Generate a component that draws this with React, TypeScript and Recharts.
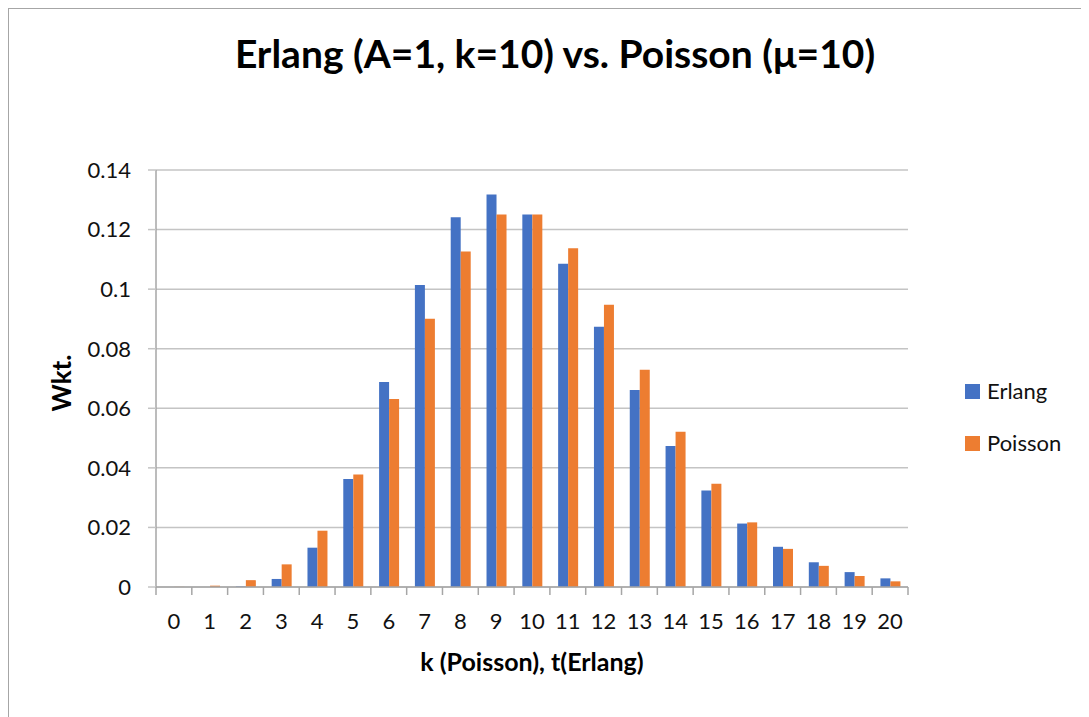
import React from 'react';
import { BarChart, Bar, XAxis, YAxis, CartesianGrid, Legend } from 'recharts';

const categories = ['0', '1', '2', '3', '4', '5', '6', '7', '8', '9', '10', '11', '12', '13', '14', '15', '16', '17', '18', '19', '20'];
const erlangValues = [0, 0.000001, 0.00019, 0.0027, 0.0132, 0.0363, 0.0688, 0.1014, 0.1241, 0.1318, 0.1251, 0.1085, 0.0874, 0.0661, 0.0473, 0.0324, 0.0213, 0.0135, 0.0083, 0.005, 0.0029];
const poissonValues = [0.00005, 0.00045, 0.0023, 0.0076, 0.0189, 0.0378, 0.0631, 0.0901, 0.1126, 0.1251, 0.1251, 0.1137, 0.0948, 0.0729, 0.0521, 0.0347, 0.0217, 0.0128, 0.0071, 0.0037, 0.0019];
const yTicks = [0, 0.02, 0.04, 0.06, 0.08, 0.1, 0.12, 0.14];

const titleText = 'Erlang (A=1, k=10) vs. Poisson (\u03bc=10)';
const xTitle = 'k (Poisson), t(Erlang)';
const yTitle = 'Wkt.';

const data = categories.map((c, i) => ({ k: c, Erlang: erlangValues[i], Poisson: poissonValues[i] }));

const FONT = 'Lato, "Open Sans", sans-serif';
const W = 1090;
const H = 711;
const PLOT_L = 147;
const PLOT_R = 899;
const PLOT_T = 161;
const PLOT_B = 578;
const X_AXIS_H = 60;
const BAND = (PLOT_R - PLOT_L) / categories.length;
const AXIS_COLOR = '#a6a6a6';
const GRID_COLOR = '#c4c4c4';
const BLUE = '#4472C4';
const ORANGE = '#ED7D31';

const XTick = (props: any) => {
  const { x, y, payload, index } = props;
  const left = x - BAND / 2;
  const right = x + BAND / 2;
  return (
    <g>
      <line x1={left} x2={left} y1={y} y2={y + 8} stroke={AXIS_COLOR} strokeWidth={1.5} />
      {index === categories.length - 1 && (
        <line x1={right} x2={right} y1={y} y2={y + 8} stroke={AXIS_COLOR} strokeWidth={1.5} />
      )}
      <text x={x} y={y + 42} textAnchor="middle" fontFamily={FONT} fontSize={22} fill="#111">
        {payload.value}
      </text>
    </g>
  );
};

const renderLegend = (props: any) => {
  const { payload } = props;
  return (
    <div style={{ fontFamily: FONT }}>
      {(payload || []).map((entry: any) => (
        <div key={entry.value} style={{ display: 'flex', alignItems: 'center', height: 52 }}>
          <span style={{ display: 'inline-block', width: 15, height: 15, background: entry.color, marginRight: 7 }} />
          <span style={{ fontSize: 22, color: '#111', lineHeight: '22px' }}>{entry.value}</span>
        </div>
      ))}
    </div>
  );
};

export default function App() {
  return (
    <div style={{ position: 'relative', width: 1100, height: 720, border: '1px solid #a6a6a6', background: '#fff' }}>
      <style>{'body{overflow:hidden}'}</style>
      <BarChart
        width={W}
        height={H}
        data={data}
        margin={{ top: PLOT_T, right: W - PLOT_R, bottom: H - PLOT_B - X_AXIS_H, left: 0 }}
        barCategoryGap="23%"
        barGap={0}
      >
        <CartesianGrid vertical={false} stroke={GRID_COLOR} strokeWidth={1.5} />
        <XAxis
          dataKey="k"
          interval={0}
          height={X_AXIS_H}
          tickLine={false}
          tickSize={0}
          tickMargin={0}
          axisLine={{ stroke: AXIS_COLOR, strokeWidth: 1.5 }}
          tick={<XTick />}
        />
        <YAxis
          width={PLOT_L}
          domain={[0, 0.14]}
          ticks={yTicks}
          tickSize={8}
          tickMargin={17}
          tickLine={{ stroke: GRID_COLOR, strokeWidth: 1.5 }}
          axisLine={{ stroke: AXIS_COLOR, strokeWidth: 1.5 }}
          tick={{ fontFamily: FONT, fontSize: 22, fill: '#111' }}
        />
        <Legend
          layout="vertical"
          align="center"
          verticalAlign="middle"
          wrapperStyle={{ left: 956, top: 356, width: 130 }}
          content={renderLegend}
        />
        <Bar dataKey="Erlang" fill={BLUE} isAnimationActive={false} />
        <Bar dataKey="Poisson" fill={ORANGE} isAnimationActive={false} />
      </BarChart>
      <svg width={W} height={H} style={{ position: 'absolute', left: 0, top: 0, pointerEvents: 'none' }}>
        <text x={546} y={59} textAnchor="middle" fontFamily={FONT} fontWeight="bold" fontSize={39} fill="#000">
          {titleText}
        </text>
        <text x={523} y={662} textAnchor="middle" fontFamily={FONT} fontWeight="bold" fontSize={25} fill="#000">
          {xTitle}
        </text>
        <text x={62} y={374} transform="rotate(-90, 62, 374)" textAnchor="middle" fontFamily={FONT} fontWeight="bold" fontSize={26} fill="#000">
          {yTitle}
        </text>
      </svg>
    </div>
  );
}
